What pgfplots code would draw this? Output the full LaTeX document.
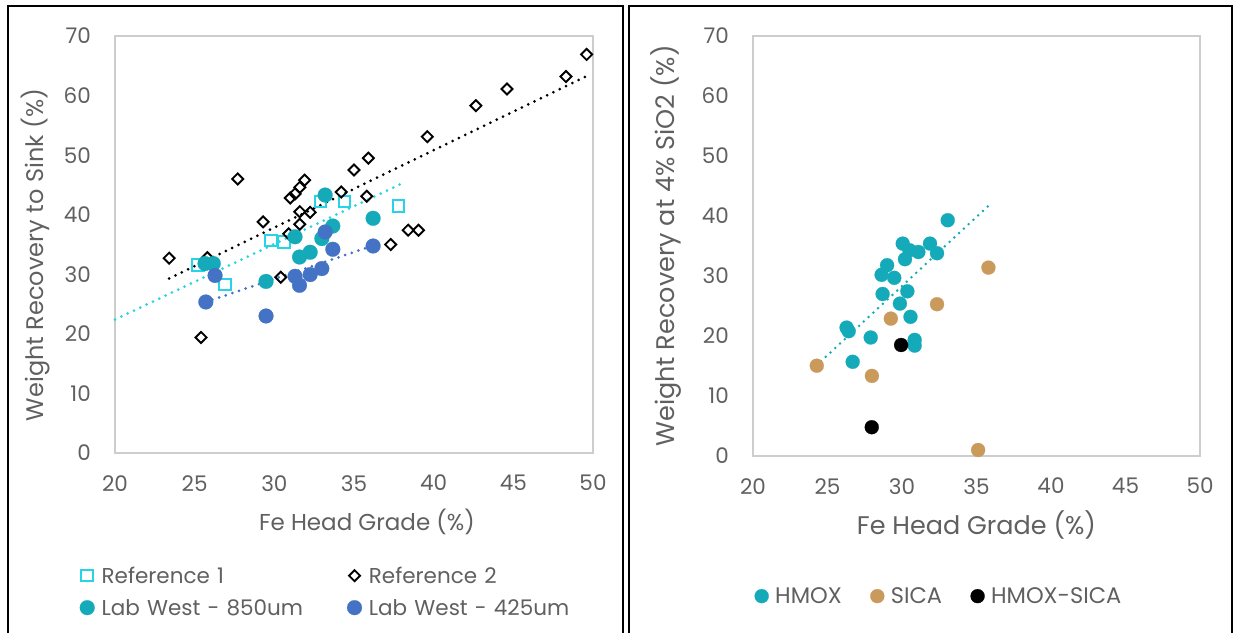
\documentclass[border=0pt]{standalone}
\usepackage{pgfplots}
\pgfplotsset{compat=1.18}
\usepackage{fontspec}
\setmainfont{Poppins}
\definecolor{teal850}{RGB}{20,170,185}
\definecolor{blue425}{RGB}{68,114,196}
\definecolor{cyanref}{RGB}{38,212,230}
\definecolor{tanc}{RGB}{201,154,92}
\definecolor{txt}{RGB}{96,96,96}
\definecolor{fr}{RGB}{205,205,205}

\pgfplotsset{
  mybase/.style={
    scale only axis,
    xmin=20, xmax=50, ymin=0, ymax=70,
    xtick={20,25,...,50}, ytick={0,10,...,70},
    major tick length=0pt,
    tick style={draw=none},
    axis line style={draw=fr, line width=1.5pt},
    /pgf/number format/assume math mode=true,
    ticklabel style={font=\fontsize{21.5}{24}\selectfont, text=txt},
    xticklabel style={inner sep=0pt, anchor=north, yshift=-22pt},
    yticklabel style={inner sep=0pt, anchor=east, xshift=-24pt},
    clip=false,
    legend cell align=left,
    legend image code/.code={\draw[mark repeat=2,mark phase=2,##1] plot coordinates {(-6.5pt,0pt) (0pt,0pt) (6.5pt,0pt)};},
  },
  dotline/.style={forget plot, line width=3pt, line cap=round, dash pattern=on 0pt off 7pt},
}

\begin{document}
\begin{tikzpicture}
\useasboundingbox (0pt,0pt) rectangle (1235pt,633pt);
\draw[black, line width=2pt] (8pt,0pt) -- (8pt,627pt) -- (623pt,627pt) -- (623pt,0pt);
\draw[black, line width=2pt] (629pt,0pt) -- (629pt,627pt) -- (1232pt,627pt) -- (1232pt,0pt);

% ---------------- left chart ----------------
\begin{axis}[mybase,
  at={(115pt,180pt)}, anchor=south west,
  width=478pt, height=417pt,
  xlabel={Fe Head Grade (\%)},
  ylabel={Weight Recovery to Sink (\%)},
  xlabel style={font=\fontsize{23}{26}\selectfont, text=txt, at={(axis description cs:0.527,-0.185)}, anchor=base},
  ylabel style={font=\fontsize{24}{27}\selectfont, text=txt, at={(axis description cs:-0.167,0.475)}, anchor=center},
  legend columns=2,
  legend style={draw=none, fill=none, inner sep=0pt, outer sep=0pt,
    at={(-0.0736,-0.2686)}, anchor=north west,
    font=\fontsize{21.5}{24}\selectfont, text=txt,
    nodes={inner xsep=7pt, inner ysep=0pt, text height=18pt, text depth=3.3pt, text width=212pt},
    row sep=10.7pt,
    /tikz/every even column/.append style={column sep=26.5pt}},
]
\addplot[only marks, mark=square, mark size=5.8pt, draw=cyanref, line width=2pt] coordinates {
(25.2,31.6) (26.9,28.3) (29.8,35.7) (30.6,35.4) (32.9,42.25) (34.4,42.25) (37.8,41.5)};
\addlegendentry{Reference 1}
\addplot[only marks, mark=square, mark size=3.9pt, draw=black, line width=1.9pt, mark options={rotate=45}] coordinates {
(23.4,32.7) (25.4,19.4) (25.8,32.8) (27.7,46.0) (29.3,38.8) (30.4,29.5) (30.9,36.8)
(31.0,42.8) (31.3,43.5) (31.6,44.6) (31.9,45.8) (31.6,40.5) (32.25,40.4) (31.6,38.4)
(34.2,43.8) (35.0,47.5) (35.8,43.1) (35.9,49.5) (37.3,35.0) (38.4,37.4) (39.05,37.4)
(39.6,53.1) (42.65,58.3) (44.6,61.1) (48.3,63.2) (49.6,66.9)};
\addlegendentry{Reference 2}
\addplot[only marks, mark=*, mark size=7.4pt, color=teal850, line width=0.2pt] coordinates {
(25.65,31.8) (26.17,31.8) (29.48,28.8) (31.3,36.3) (31.58,32.9) (32.25,33.7)
(32.98,36.0) (33.67,38.1) (33.19,43.3) (36.2,39.4)};
\addlegendentry{Lab West - 850um}
\addplot[only marks, mark=*, mark size=7.4pt, color=blue425, line width=0.2pt] coordinates {
(26.28,29.8) (25.7,25.35) (29.48,23.0) (31.3,29.66) (31.58,28.15) (32.25,29.95)
(32.98,30.96) (33.67,34.2) (33.19,37.1) (36.2,34.75)};
\addlegendentry{Lab West - 425um}
% trendlines
\addplot[dotline, black] coordinates {(23.4,29.3) (49.7,63.4)};
\addplot[dotline, cyanref] coordinates {(20,22.4) (37.9,45.1)};
\addplot[dotline, blue425] coordinates {(25.7,25.35) (36.3,34.9)};
\end{axis}

% ---------------- right chart ----------------
\begin{axis}[mybase,
  at={(753pt,177pt)}, anchor=south west,
  width=447pt, height=420pt,
  xlabel={Fe Head Grade (\%)},
  ylabel={Weight Recovery at 4\% SiO2 (\%)},
  xlabel style={font=\fontsize{25.5}{28}\selectfont, text=txt, at={(axis description cs:0.5,-0.188)}, anchor=base},
  ylabel style={font=\fontsize{25.5}{28}\selectfont, text=txt, at={(axis description cs:-0.1946,0.5)}, anchor=center},
  legend columns=3,
  legend style={draw=none, fill=none, inner sep=0pt, outer sep=0pt,
    at={(0.0038,-0.3095)}, anchor=north west,
    font=\fontsize{22.5}{25}\selectfont, text=txt,
    nodes={inner xsep=6.5pt, inner ysep=0pt, text height=18pt, text depth=2.3pt},
    /tikz/every even column/.append style={column sep=22pt}},
]
\addplot[only marks, mark=*, mark size=7pt, color=teal850, line width=0.2pt] coordinates {
(33.07,39.3) (30.05,35.4) (30.5,34.3) (31.1,34.0) (31.88,35.4) (32.35,33.8) (30.2,32.8)
(29.0,31.8) (28.63,30.2) (29.48,29.7) (28.7,27.0) (30.36,27.45) (29.86,25.4) (30.57,23.2)
(26.28,21.4) (26.42,20.8) (27.9,19.75) (30.85,19.35) (30.85,18.4) (26.69,15.7)};
\addlegendentry{HMOX}
\addplot[only marks, mark=*, mark size=7pt, color=tanc, line width=0.2pt] coordinates {
(24.28,15.05) (27.98,13.35) (29.25,22.9) (32.35,25.3) (35.8,31.4) (35.11,1.0)};
\addlegendentry{SICA}
\addplot[only marks, mark=*, mark size=7pt, color=black, line width=0.2pt] coordinates {
(27.97,4.8) (29.94,18.5)};
\addlegendentry{HMOX-SICA}
\addplot[dotline, teal850, line width=2.8pt, dash pattern=on 0pt off 6.5pt] coordinates {(24.24,15.05) (36.04,42.25)};
\end{axis}
\end{tikzpicture}
\end{document}
